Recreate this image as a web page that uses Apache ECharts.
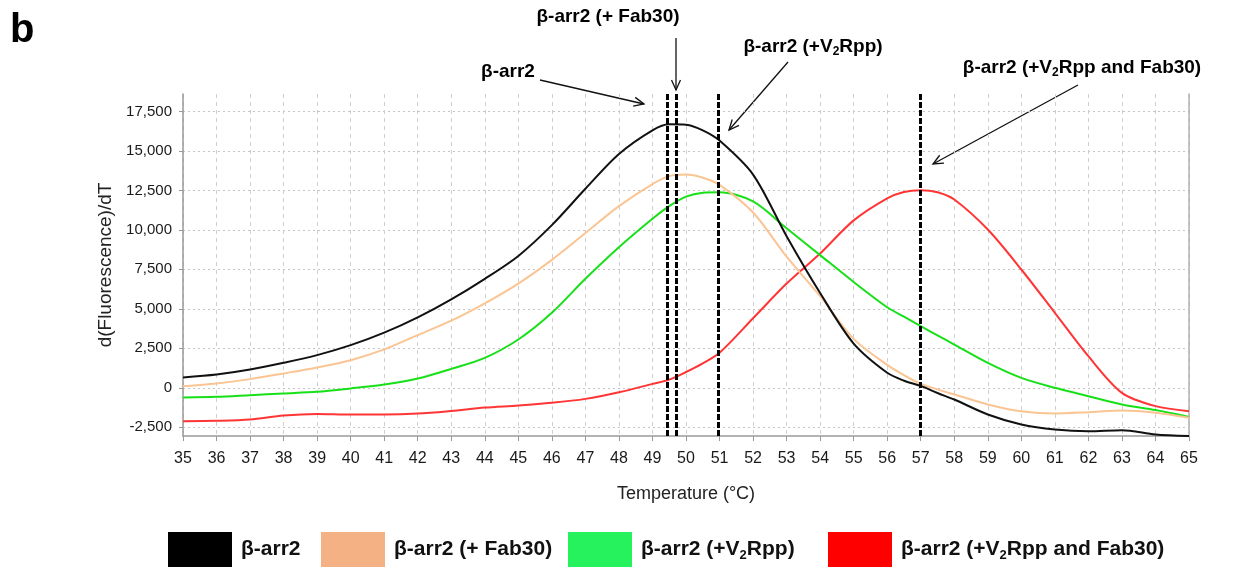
<!DOCTYPE html>
<html>
<head>
<meta charset="utf-8">
<title>β-arr2 melt curves</title>
<script src="https://cdn.jsdelivr.net/npm/echarts@6/dist/echarts.min.js"></script>
<style>
  html, body { margin: 0; padding: 0; background: #fff; }
  #chart { width: 1234px; height: 567px; }
</style>
</head>
<body>
<div id="chart"></div>
<script>
// ============ Data ============
const temps = [35, 36, 37, 38, 39, 40, 41, 42, 43, 44, 45, 46, 47, 48, 49, 49.5, 50, 50.5,
  51, 52, 53, 54, 55, 56, 56.5, 57, 57.5, 58, 59, 60, 61, 62, 63, 64, 65]

const arr2 = [660, 845, 1160, 1585, 2070, 2700, 3490, 4460, 5600, 6900, 8350, 10300, 12600, 14800, 16300, 16680, 16650, 16300,
  15650, 13500, 9600, 6000, 2800, 950, 450, 120, -330, -740, -1690, -2320, -2640, -2750, -2680, -2950, -3050]

const arr2Fab = [106, 275, 550, 910, 1290, 1750, 2430, 3340, 4250, 5350, 6600, 8100, 9800, 11500, 12900, 13400, 13500, 13300,
  12850, 11100, 8300, 5800, 3100, 1450, 800, 250, -100, -420, -1050, -1480, -1620, -1540, -1440, -1580, -1900]

const arr2V2 = [-610, -570, -465, -360, -255, -40, 210, 590, 1200, 1900, 3060, 4750, 6900, 8900, 10700, 11500, 12100, 12350,
  12380, 11800, 10100, 8400, 6700, 5100, 4500, 3900, 3320, 2740, 1580, 630, 0, -530, -1055, -1410, -1840]

const arr2V2Fab = [-2110, -2090, -2010, -1750, -1650, -1690, -1690, -1630, -1460, -1250, -1120, -950, -700, -280, 250, 520, 1000, 1550,
  2220, 4400, 6600, 8500, 10600, 12000, 12400, 12510, 12380, 11920, 10020, 7490, 4750, 2000, -320, -1160, -1480]

// Tm markers (dashed verticals)
const markerTemps = [49.45, 49.7, 50.95, 57.0]

const yTicks = [-2500, 0, 2500, 5000, 7500, 10000, 12500, 15000, 17500]

const seriesNames = ['β-arr2', 'β-arr2 (+ Fab30)', 'β-arr2 (+V2Rpp)', 'β-arr2 (+V2Rpp and Fab30)']
const lineColors = ['#111111', '#fbc593', '#18e018', '#ff3535']
const boxColors = ['#000000', '#f4b183', '#26f25e', '#ff0000']

// ============ Helpers ============
const SANS = '"Liberation Sans", Arial, sans-serif'

// rich text with subscript 2 for V2Rpp
function richName(name) {
  const parts = name.split('V2')
  if (parts.length === 1) return '{b|' + name + '}'
  return '{b|' + parts[0] + 'V}{s|2}{b|' + parts[1] + '}'
}

function richStyle(size) {
  return {
    b: { fontFamily: SANS, fontWeight: 'bold', fontSize: size, color: '#111' },
    s: { fontFamily: SANS, fontWeight: 'bold', fontSize: Math.round(size * 0.62), color: '#111', padding: [Math.round(size * 0.5), 0, 0, 0] },
  }
}

function arrow(x1, y1, x2, y2) {
  const ang = Math.atan2(y2 - y1, x2 - x1)
  const len = 11
  const spread = 0.42
  const p1 = [x2 - len * Math.cos(ang - spread), y2 - len * Math.sin(ang - spread)]
  const p2 = [x2 - len * Math.cos(ang + spread), y2 - len * Math.sin(ang + spread)]
  return [
    { type: 'line', shape: { x1, y1, x2, y2 }, style: { stroke: '#111', lineWidth: 1.3 } },
    { type: 'polyline', shape: { points: [p1, [x2, y2], p2] }, style: { stroke: '#111', lineWidth: 1.3, fill: null } },
  ]
}

function label(text, cx, cy) {
  return {
    type: 'text',
    x: cx,
    y: cy,
    style: { text: richName(text), rich: richStyle(19), align: 'center', verticalAlign: 'middle' },
  }
}

// ============ Chart ============
const chart = echarts.init(document.getElementById('chart'))

const legendLeft = [168, 321, 568, 828]

chart.setOption({
  animation: false,
  backgroundColor: '#fff',
  grid: { left: 183, right: 45, top: 94, bottom: 131 },
  xAxis: {
    type: 'value',
    min: 35,
    max: 65,
    interval: 1,
    name: 'Temperature (°C)',
    nameLocation: 'middle',
    nameGap: 49,
    nameTextStyle: { fontFamily: SANS, fontSize: 18, color: '#222' },
    axisLine: { onZero: false, lineStyle: { color: '#9a9a9a', width: 1.5 } },
    axisTick: { length: 5, lineStyle: { color: '#9a9a9a' } },
    axisLabel: { fontFamily: SANS, fontSize: 16, color: '#1a1a1a', margin: 15 },
    splitLine: { show: true, lineStyle: { color: '#cfcfcf', type: [4, 4] } },
  },
  yAxis: [
    {
      type: 'value',
      min: -3050,
      max: 18600,
      name: 'd(Fluorescence)/dT',
      nameLocation: 'middle',
      nameGap: 47,
      nameTextStyle: { fontFamily: SANS, fontSize: 19, color: '#222' },
      axisLine: { show: true, lineStyle: { color: '#9a9a9a', width: 1.5 } },
      axisTick: { show: true, length: 4, customValues: yTicks, lineStyle: { color: '#9a9a9a' } },
      axisLabel: {
        customValues: yTicks,
        fontFamily: SANS,
        fontSize: 15,
        color: '#1a1a1a',
        margin: 11,
        formatter: (v) => v.toLocaleString('en-US'),
      },
      splitLine: { show: true, lineStyle: { color: '#c4c4c4', type: [2, 3] } },
    },
    {
      // right frame line
      type: 'value',
      position: 'right',
      min: -3050,
      max: 18600,
      axisLine: { show: true, lineStyle: { color: '#b0b0b0', width: 1.5 } },
      axisTick: { show: false },
      axisLabel: { show: false },
      splitLine: { show: false },
    },
  ],
  legend: seriesNames.map((name, i) => ({
    left: legendLeft[i],
    top: 532,
    padding: 0,
    itemWidth: 64,
    itemHeight: 35,
    itemGap: 0,
    selectedMode: false,
    data: [{ name, icon: 'rect', itemStyle: { color: boxColors[i], borderWidth: 0 } }],
    formatter: (n) => richName(n),
    textStyle: { rich: richStyle(21), padding: [0, 0, 0, 4] },
  })),
  series: [arr2, arr2Fab, arr2V2, arr2V2Fab].map((vals, i) => ({
    name: seriesNames[i],
    type: 'line',
    smooth: 0.3,
    showSymbol: false,
    data: temps.map((t, k) => [t, vals[k]]),
    lineStyle: { color: lineColors[i], width: 2 },
    itemStyle: { color: lineColors[i] },
    z: 3 + (3 - i),
    markLine: i === 0 ? {
      silent: true,
      symbol: 'none',
      label: { show: false },
      lineStyle: { color: '#000', width: 3, type: [6, 2] },
      data: markerTemps.map((t) => ({ xAxis: t })),
      z: 10,
    } : undefined,
  })),
  graphic: [
    {
      type: 'text',
      left: 10,
      top: 11,
      style: { text: 'b', fontFamily: SANS, fontWeight: 'bold', fontSize: 40, fill: '#000' },
    },
    label('β-arr2', 508, 72),
    label('β-arr2 (+ Fab30)', 608, 17),
    label('β-arr2 (+V2Rpp)', 813, 47),
    label('β-arr2 (+V2Rpp and Fab30)', 1082, 68),
    ...arrow(540, 80, 644, 104),
    ...arrow(676, 38, 676, 90),
    ...arrow(788, 62, 729, 130),
    ...arrow(1078, 85, 933, 164),
  ],
})
</script>
</body>
</html>
